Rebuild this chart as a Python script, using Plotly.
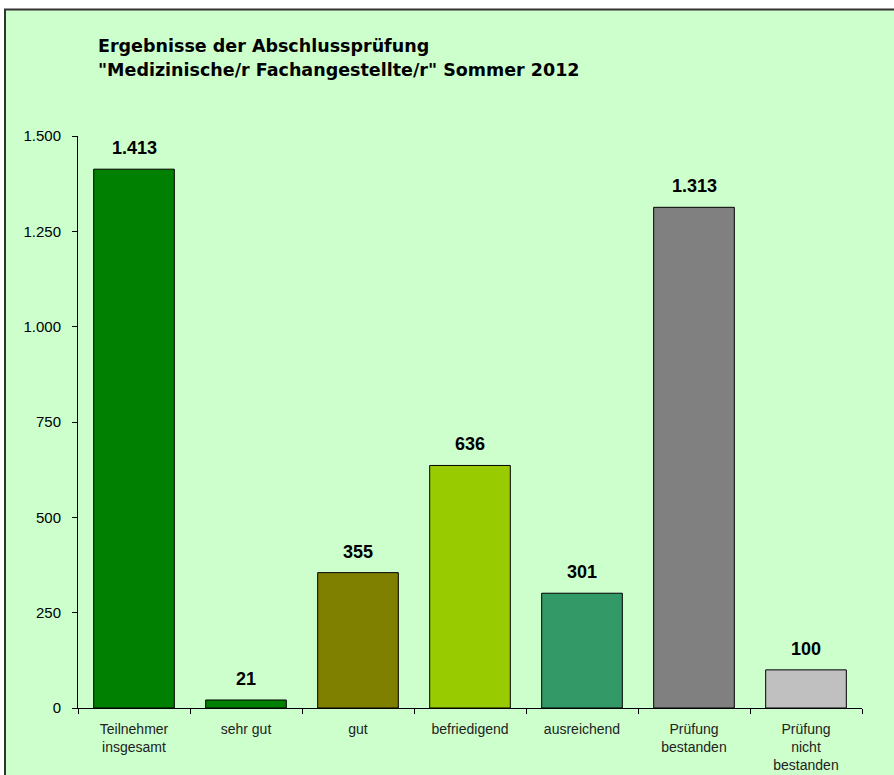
import plotly.graph_objects as go

categories = ["Teilnehmer<br>insgesamt", "sehr gut", "gut", "befriedigend", "ausreichend",
              "Prüfung<br>bestanden", "Prüfung<br>nicht<br>bestanden"]
values = [1413, 21, 355, 636, 301, 1313, 100]
colors = ["#008000", "#008000", "#808000", "#99CC00", "#339966", "#808080", "#C0C0C0"]
y_ticks = [0, 250, 500, 750, 1000, 1250, 1500]
title_lines = ["Ergebnisse der Abschlussprüfung", "\"Medizinische/r Fachangestellte/r\" Sommer 2012"]

W, H = 894, 775
L, R, T, B = 78, 32, 136, 67
pw, ph = W - L - R, H - T - B

def px(x):
    return (x - L) / pw

def py(y):
    return (H - B - y) / ph

FONT = "Liberation Sans, Arial, sans-serif"
TFONT = "DejaVu Sans, Liberation Sans, sans-serif"

fig = go.Figure(go.Bar(
    x=categories, y=values,
    marker=dict(color=colors, line=dict(color="#000000", width=1)),
    width=0.72,
))

for c, v in zip(categories, values):
    fig.add_annotation(x=c, y=v, text=f"<b>{v:,}</b>".replace(",", "."),
                       showarrow=False, yanchor="bottom", yshift=9,
                       font=dict(family=FONT, size=18, color="#000000"))

fig.add_annotation(xref="paper", yref="paper", x=px(96), y=py(45.5),
                   text="<b>" + title_lines[0] + "</b>", showarrow=False,
                   xanchor="left", yanchor="middle",
                   font=dict(family=TFONT, size=17.5, color="#000000"))
fig.add_annotation(xref="paper", yref="paper", x=px(96), y=py(70.5),
                   text="<b>" + title_lines[1] + "</b>", showarrow=False,
                   xanchor="left", yanchor="middle",
                   font=dict(family=TFONT, size=17.5, color="#000000"))

fig.add_shape(type="rect", xref="paper", yref="paper", layer="below",
              x0=px(5), x1=px(W + 60), y0=py(H + 60), y1=py(9.5),
              fillcolor="#CCFFCC", line=dict(color="#333333", width=2))

fig.update_layout(
    width=W, height=H,
    margin=dict(l=L, r=R, t=T, b=B, pad=0, autoexpand=False),
    paper_bgcolor="#FFFFFF", plot_bgcolor="rgba(0,0,0,0)",
    separators=",.",
    showlegend=False,
    font=dict(family=FONT, color="#000000"),
    xaxis=dict(type="category", range=[-0.5, 6.5], showline=True, linecolor="#000000",
               linewidth=1, ticks="outside", tickson="boundaries", ticklen=5,
               tickcolor="#000000", showgrid=False, zeroline=False,
               ticklabelstandoff=8, automargin=False,
               tickfont=dict(family=FONT, size=14, color="#222222")),
    yaxis=dict(range=[0, 1500], tickvals=y_ticks, showline=True, linecolor="#000000",
               linewidth=1, ticks="outside", ticklen=5, tickcolor="#000000",
               showgrid=False, zeroline=False, separatethousands=True,
               ticklabelstandoff=8, automargin=False,
               tickfont=dict(family=FONT, size=15, color="#000000")),
)

fig.write_html("out.html", config={"displayModeBar": False},
               post_script="document.body.style.margin='0';")
